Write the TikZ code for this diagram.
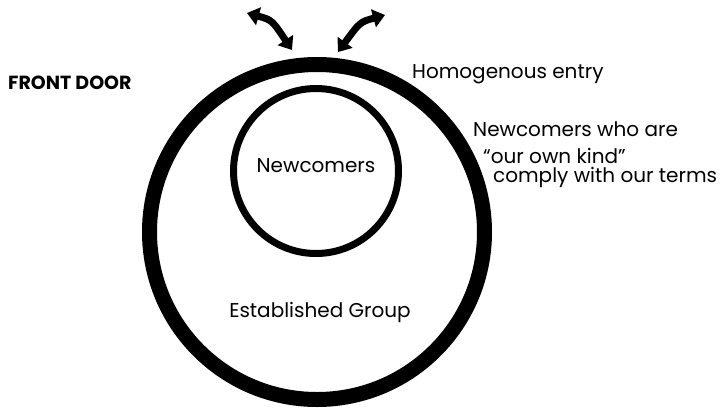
\documentclass[tikz,border=0pt]{standalone}
\usepackage{fontspec}
\setmainfont{Poppins}
\usetikzlibrary{arrows.meta}
\tikzset{
  ring/.style={circle, draw=black, inner sep=0pt, outer sep=0pt},
  lbl/.style={inner sep=0pt, anchor=base west, font=\fontsize{20}{22}\selectfont},
  clbl/.style={inner sep=0pt, anchor=base, font=\fontsize{20}{22}\selectfont},
  door/.style={line width=7pt, {Triangle[length=12pt,width=18pt]}-{Triangle[length=12pt,width=18pt]}}
}
\begin{document}
\begin{tikzpicture}[x=1pt,y=-1pt]
\useasboundingbox (0,0) rectangle (721,408);
\node[ring, line width=15pt, minimum size=335pt] (outer) at (317,232) {};
\node[ring, line width=7pt, minimum size=165pt] (inner) at (316,171) {};
\node[clbl] (newc) at (316,172) {Newcomers};
\node[clbl] (est) at (320,317) {Established Group};
\node[lbl, font=\fontsize{19}{21}\selectfont\bfseries] (front) at (8,89) {FRONT DOOR};
\node[lbl] (homo) at (412,78) {Homogenous entry};
\node[lbl] (l1) at (473,136) {Newcomers who are};
\node[lbl] (l2) at (483,163) {“our own kind”};
\node[lbl] (l3) at (493,182) {comply with our terms};
\coordinate (la) at (247,13);
\coordinate (lb) at (292,50);
\coordinate (ra) at (385,15);
\coordinate (rb) at (338,52);
\draw[door] (la) .. controls (272,20) .. (lb);
\draw[door] (ra) .. controls (360,22) .. (rb);
\end{tikzpicture}
\end{document}
